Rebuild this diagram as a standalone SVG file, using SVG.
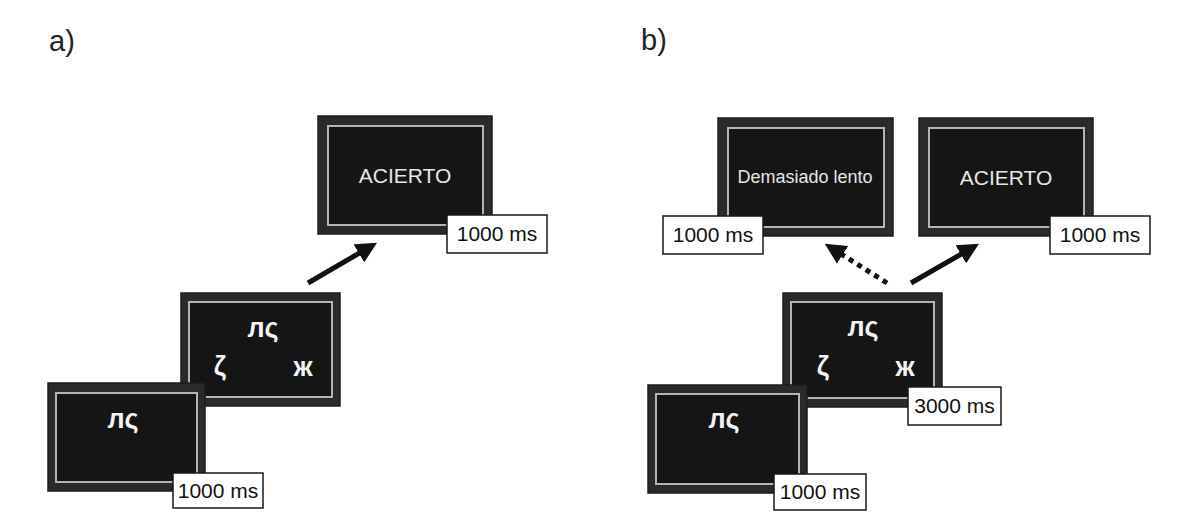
<svg xmlns="http://www.w3.org/2000/svg" width="1195" height="529" viewBox="0 0 1195 529">
<defs>
<style>
.outer{fill:#2a2a2a;stroke:#1c1c1c;stroke-width:1.5}
.inner{fill:#151515;stroke:#b4b4b4;stroke-width:2}
.msg{font-family:"Liberation Sans",Arial,sans-serif;fill:#e6e6e6;text-anchor:middle}
.sym{font-family:"Liberation Sans","DejaVu Sans",sans-serif;font-weight:bold;fill:#f2f2f2;text-anchor:middle;font-size:27px}
.lblbox{fill:#ffffff;stroke:#1a1a1a;stroke-width:1.5}
.lbl{font-family:"Liberation Sans",Arial,sans-serif;font-size:21px;fill:#111;text-anchor:middle}
.panel{font-family:"Liberation Sans",Arial,sans-serif;font-size:29px;fill:#222}
.arr{stroke:#111;stroke-width:5;fill:none}
.dot{stroke:#111;stroke-width:5;fill:none;stroke-dasharray:5 5}
</style>
<marker id="head" markerUnits="userSpaceOnUse" markerWidth="21" markerHeight="21" viewBox="0 0 19 19" refX="6" refY="9.5" orient="auto">
<path d="M0,0 L19,9.5 L0,19 z" fill="#111"/>
</marker>
</defs>
<rect width="1195" height="529" fill="#ffffff"/>
<text class="panel" x="49" y="51">a)</text>
<text class="panel" x="641" y="50">b)</text>

<g id="connectors">
<line class="arr" x1="308" y1="283" x2="364.6" y2="250" marker-end="url(#head)"/>
<line class="dot" x1="887" y1="283" x2="837" y2="251.4" marker-end="url(#head)"/>
<line class="arr" x1="911" y1="283" x2="966.6" y2="251" marker-end="url(#head)"/>
</g>

<g id="a-acierto">
<rect class="outer" x="318" y="116" width="174" height="118"/>
<rect class="inner" x="328" y="126" width="155" height="99"/>
<text class="msg" x="405" y="183" font-size="21">ACIERTO</text>
<rect class="lblbox" x="447" y="215" width="100" height="38"/>
<text class="lbl" x="497" y="241">1000 ms</text>
</g>

<g id="a-choice">
<rect class="outer" x="181" y="293" width="159" height="113"/>
<rect class="inner" x="189" y="302" width="143" height="95"/>
<text class="sym" x="263" y="337">лς</text>
<text class="sym" x="220" y="375">ζ</text>
<text class="sym" x="303" y="376">ж</text>
</g>

<g id="a-cue">
<rect class="outer" x="48" y="383" width="157" height="108"/>
<rect class="inner" x="56" y="393" width="141" height="89"/>
<text class="sym" x="123" y="428">лς</text>
<rect class="lblbox" x="173" y="473" width="90" height="35"/>
<text class="lbl" x="218" y="498">1000 ms</text>
</g>

<g id="b-lento">
<rect class="outer" x="718" y="118" width="175" height="118"/>
<rect class="inner" x="728" y="128" width="156" height="99"/>
<text class="msg" x="805" y="183" font-size="18">Demasiado lento</text>
<rect class="lblbox" x="663" y="216" width="100" height="38"/>
<text class="lbl" x="713" y="242">1000 ms</text>
</g>

<g id="b-acierto">
<rect class="outer" x="919" y="118" width="174" height="118"/>
<rect class="inner" x="929" y="128" width="155" height="99"/>
<text class="msg" x="1006" y="185" font-size="21">ACIERTO</text>
<rect class="lblbox" x="1050" y="216" width="100" height="38"/>
<text class="lbl" x="1100" y="242">1000 ms</text>
</g>

<g id="b-choice">
<rect class="outer" x="783" y="293" width="159" height="114"/>
<rect class="inner" x="791" y="302" width="143" height="96"/>
<text class="sym" x="863" y="336">лς</text>
<text class="sym" x="823" y="375">ζ</text>
<text class="sym" x="905" y="376">ж</text>
<rect class="lblbox" x="908" y="387" width="93" height="38"/>
<text class="lbl" x="954.5" y="413">3000 ms</text>
</g>

<g id="b-cue">
<rect class="outer" x="648" y="385" width="159" height="108"/>
<rect class="inner" x="656" y="394" width="143" height="90"/>
<text class="sym" x="724" y="428">лς</text>
<rect class="lblbox" x="774" y="474" width="92" height="36"/>
<text class="lbl" x="820" y="499">1000 ms</text>
</g>
</svg>
